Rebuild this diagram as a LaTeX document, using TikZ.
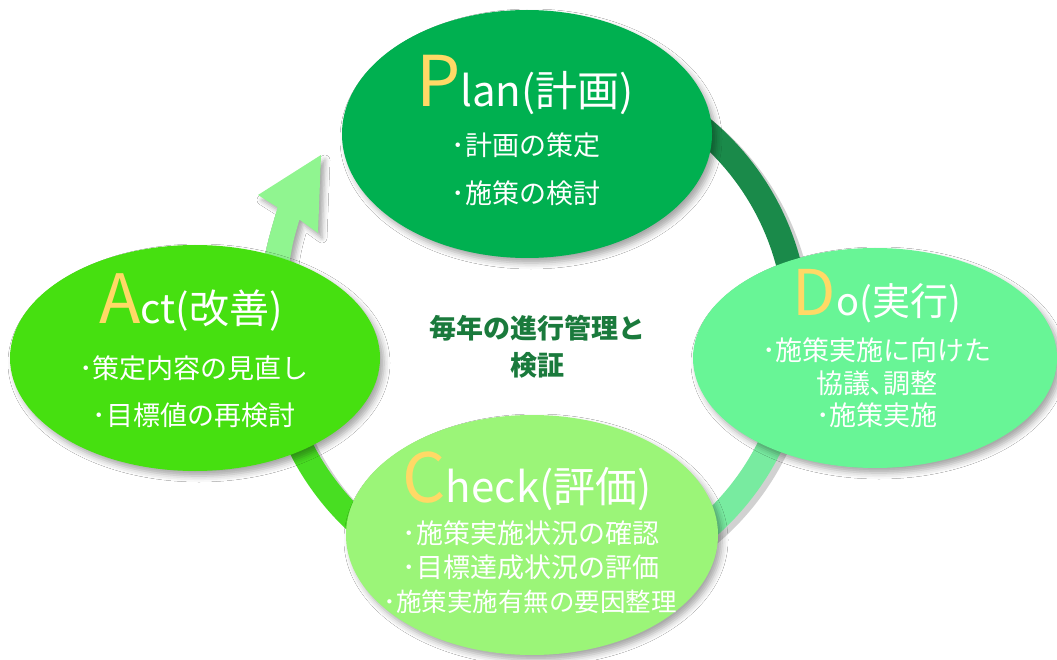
\documentclass[tikz,border=0pt]{standalone}
\usepackage{fontspec}
\setmainfont{Noto Sans CJK JP}
\usetikzlibrary{shapes.geometric,shadows.blur}
\definecolor{planc}{RGB}{0,176,80}
\definecolor{doc}{RGB}{104,245,150}
\definecolor{checkc}{RGB}{155,245,120}
\definecolor{actc}{RGB}{70,224,16}
\definecolor{pdarc}{RGB}{26,138,74}
\definecolor{dcarc}{RGB}{120,235,160}
\definecolor{caarc}{RGB}{72,222,34}
\definecolor{arrowc}{RGB}{144,245,144}
\definecolor{letterc}{RGB}{255,217,102}
\definecolor{centerc}{RGB}{26,122,60}
\begin{document}
\begin{tikzpicture}[x=1pt,y=-1pt,
  oval/.style={ellipse, inner sep=0pt, draw=none,
    blur shadow={shadow xshift=4pt, shadow yshift=-5pt, shadow blur radius=6pt, shadow opacity=35}},
  ring/.style={line width=25pt},
  ringshadow/.style={line width=25pt, black, opacity=0.18},
  titletext/.style={text=white, inner sep=0pt, anchor=base},
  itemtext/.style={text=white, inner sep=0pt, font=\fontsize{27}{32}\selectfont, anchor=center},
  centertext/.style={text=centerc, inner sep=0pt, font=\fontsize{27}{32}\selectfont\bfseries, anchor=center}
]
\useasboundingbox (0,0) rectangle (1057,660);
\fill[white] (0,0) rectangle (1057,660);

% ring connectors
\coordinate (ringc) at (535,330);
\coordinate (pd1) at ([shift={(-75:262)}]ringc);
\coordinate (dc1) at ([shift={(8:262)}]ringc);
\coordinate (ca1) at ([shift={(118:262)}]ringc);
\coordinate (pd1s) at ([shift={(-75:262)}]540,334);
\coordinate (dc1s) at ([shift={(8:262)}]540,334);
\coordinate (ca1s) at ([shift={(118:262)}]540,334);
\draw[ringshadow] (pd1s) arc[start angle=-75, end angle=-8, radius=262];
\draw[ringshadow] (dc1s) arc[start angle=8, end angle=62, radius=262];
\draw[ringshadow] (ca1s) arc[start angle=118, end angle=172, radius=262];
\draw[ring, pdarc] (pd1) arc[start angle=-75, end angle=-8, radius=262];
\draw[ring, dcarc] (dc1) arc[start angle=8, end angle=62, radius=262];
\draw[ring, caarc] (ca1) arc[start angle=118, end angle=172, radius=262];

% arrow from Act towards Plan
\coordinate (tip) at (321,155);
\coordinate (wingl) at (258,195);
\coordinate (wingr) at (318,233);
\coordinate (jl) at (277.6,207.4);
\coordinate (jr) at (299.4,219.6);
\coordinate (bl) at (260,280);
\coordinate (br) at (286,286);
\fill[arrowc, blur shadow={shadow xshift=4pt, shadow yshift=-5pt, shadow blur radius=5pt, shadow opacity=35}]
  (tip) -- (wingr) -- (jr) .. controls (292,245) .. (br) -- (bl) .. controls (268,240) .. (jl) -- (wingl) -- cycle;

% ellipses
\node[oval, fill=planc, minimum width=370pt, minimum height=248pt] (plan) at (527,134) {};
\node[oval, fill=doc, minimum width=364pt, minimum height=220pt] (do) at (875,358) {};
\node[oval, fill=checkc, minimum width=372pt, minimum height=240pt] (check) at (532,535) {};
\node[oval, fill=actc, minimum width=370pt, minimum height=226pt] (act) at (195,358) {};

% Plan text
\node[titletext, font=\fontsize{42}{46}\selectfont] (plant) at (525,107)
  {{\fontsize{70}{72}\selectfont\color{letterc}P}lan(計画)};
\node[itemtext] (plan1) at (526,145) {･計画の策定};
\node[itemtext] (plan2) at (526,193) {･施策の検討};

% Do text
\node[titletext, font=\fontsize{38}{42}\selectfont] (dot) at (877,315)
  {{\fontsize{63}{65}\selectfont\color{letterc}D}o(実行)};
\node[itemtext] (do1) at (877,350) {･施策実施に向けた};
\node[itemtext] (do2) at (877,383) {協議､調整};
\node[itemtext] (do3) at (877,415) {･施策実施};

% Check text
\node[titletext, font=\fontsize{42}{46}\selectfont] (checkt) at (527,502)
  {{\fontsize{68}{70}\selectfont\color{letterc}C}heck(評価)};
\node[itemtext] (check1) at (531,533) {･施策実施状況の確認};
\node[itemtext] (check2) at (531,567) {･目標達成状況の評価};
\node[itemtext, font=\fontsize{25.5}{30}\selectfont] (check3) at (530,602) {･施策実施有無の要因整理};

% Act text
\node[titletext, font=\fontsize{40}{44}\selectfont] (actt) at (191,323)
  {{\fontsize{68}{70}\selectfont\color{letterc}A}ct(改善)};
\node[itemtext] (act1) at (194,368) {･策定内容の見直し};
\node[itemtext] (act2) at (194,415) {･目標値の再検討};

% centre text
\node[centertext] (cen1) at (537,328) {毎年の進行管理と};
\node[centertext] (cen2) at (537,365) {検証};
\end{tikzpicture}
\end{document}
